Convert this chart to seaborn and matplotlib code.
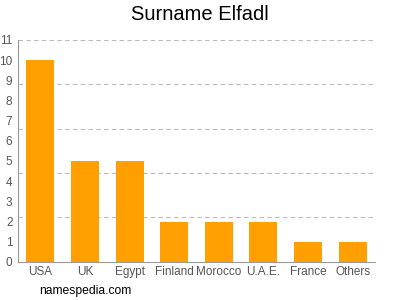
import matplotlib
matplotlib.use("Agg")
import matplotlib.pyplot as plt
import seaborn as sns
import pandas as pd
import numpy as np

countries = ["USA", "UK", "Egypt", "Finland", "Morocco", "U.A.E.", "France", "Others"]
counts = [10, 5, 5, 2, 2, 2, 1, 1]

sns.set_theme(style="white")
plt.rcParams['font.family'] = ['Liberation Sans', 'DejaVu Sans']

df = pd.DataFrame({"country": countries, "count": counts})

fig = plt.figure(figsize=(4, 3), dpi=100)
ax = fig.add_axes([0.045, 0.127, 0.8925, 0.74])

for g in np.arange(2.2, 11.05, 2.2):
    ax.axhline(g, color="#bbbbbb", linestyle=(0, (4, 3)), linewidth=0.8, zorder=0)

sns.barplot(data=df, x="country", y="count", color="#FFA000", saturation=1,
            width=0.63, ax=ax, zorder=2, linewidth=0, edgecolor="none")

ax.set_xlim(-0.5, 7.5)
ax.set_ylim(0, 11)
ax.set_yticks(range(0, 12))
ax.set_xlabel("")
ax.set_ylabel("")
for s in ["top", "right"]:
    ax.spines[s].set_visible(False)
for s in ["left", "bottom"]:
    ax.spines[s].set_color("#999999")
    ax.spines[s].set_linewidth(0.8)
ax.tick_params(axis="y", length=3, width=0.8, color="#999999", labelsize=8.5, labelcolor="#555555", pad=1)
ax.tick_params(axis="x", length=0, labelsize=8.5, labelcolor="#555555", pad=3)

fig.text(0.5, 0.95, "Surname Elfadl", ha="center", va="center", fontsize=14.5, color="#000000")
fig.text(0.098, 0.03, "namespedia.com", ha="left", va="center", fontsize=8.7, color="#000000")

fig.savefig("out.png", dpi=100)
